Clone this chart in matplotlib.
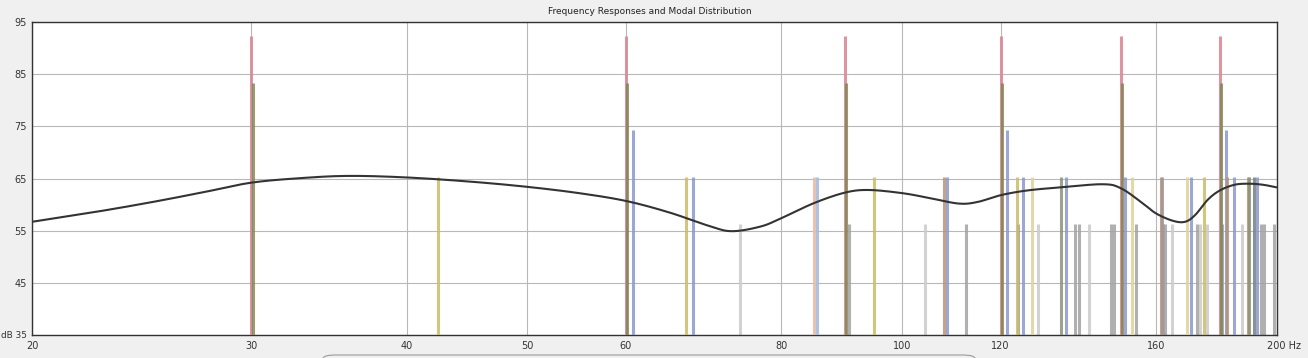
import numpy as np
import matplotlib
matplotlib.use("Agg")
import matplotlib.pyplot as plt
from matplotlib.patches import FancyBboxPatch
import matplotlib.transforms as mtransforms

# ---- data ----
title = "Frequency Responses and Modal Distribution"
x_ticks = [20, 30, 40, 50, 60, 80, 100, 120, 160, 200]
x_ticklabels = ["20", "30", "40", "50", "60", "80", "100", "120", "160", "200 Hz"]
y_ticks = [35, 45, 55, 65, 75, 85, 95]
y_ticklabels = ["dB 35", "45", "55", "65", "75", "85", "95"]

# response curve (Hz, dB)
resp_freq = [20, 22.5, 25, 27.5, 30, 33, 36, 40, 45, 50, 55, 60, 65, 70, 73, 77, 80,
             85, 90, 94, 100, 105, 111, 115, 120, 126, 134, 145, 150, 156, 160,
             165, 168.8, 172, 176, 180, 185, 190, 195, 200]
resp_db = [56.7, 58.6, 60.5, 62.4, 64.2, 65.1, 65.5, 65.2, 64.4, 63.4, 62.2, 60.7,
           58.5, 55.9, 54.9, 55.8, 57.4, 60.3, 62.3, 62.8, 62.2, 61.3, 60.2, 60.5,
           61.8, 62.7, 63.3, 63.9, 63.1, 60.3, 58.3, 56.9, 56.7, 58.0, 60.9, 62.7,
           63.8, 64.0, 63.8, 63.3]

# modal bars (Hz) grouped by colour/level
red_modes = [30, 60, 90, 120, 150, 180]
red_level = 92.3
green_modes = [30.08, 60.15, 90.2, 120.25, 150.3, 180.35]
green_level = 83.3
blue_tall_modes = [60.8, 121.5, 182.1]
blue_tall_level = 74.3

mid_level = 65.3
yellow_mid = [42.4, 67.1, 95.0, 123.6, 174.9]
lightyellow_mid = [127.2, 153.0, 169.5]
blue_mid = [67.9, 108.6, 125.1, 135.4, 151.1, 161.7, 170.7, 184.9, 192.7]
lightblue_mid = [85.5]
pink_mid = [84.9]
brown_mid = [108.1, 161.4, 182.3, 189.5]
olivegray_mid = [134.2, 189.9]
darkgray_mid = [191.7]

low_level = 56.3
gray_low = [90.6, 112.6, 124.0, 137.6, 138.8, 147.1, 148.1, 154.2, 162.2, 162.8,
            172.5, 180.8, 194.4, 195.2, 199.1]
lightgray_low = [74.1, 104.4, 128.7, 141.3, 164.7, 173.4, 175.9, 187.4]

# ---- figure ----
W, H, DPI = 1308, 358, 100
fig = plt.figure(figsize=(W / DPI, H / DPI), dpi=DPI, facecolor="#f0f0f0")
L, R, T, B = 32, 1276.7, 22, 335
ax = fig.add_axes([L / W, (H - B) / H, (R - L) / W, (B - T) / H])
ax.set_facecolor("white")
ax.set_xscale("log")
ax.set_xlim(20, 200)
ax.set_ylim(35, 95)

ax.set_xticks(x_ticks)
ax.set_xticklabels(x_ticklabels)
ax.xaxis.set_minor_locator(matplotlib.ticker.NullLocator())
ax.set_yticks(y_ticks)
ax.set_yticklabels(y_ticklabels)
ax.tick_params(axis="both", length=0, labelsize=7, labelcolor="#333333")
ax.tick_params(axis="y", pad=3.5)
ax.tick_params(axis="x", pad=4)
ax.get_yticklabels()[0].set_fontsize(6.4)
lab = ax.get_xticklabels()[-1]
lab.set_horizontalalignment("left")
lab.set_transform(lab.get_transform() + mtransforms.ScaledTranslation(-10 / DPI, 0, fig.dpi_scale_trans))

ax.grid(True, color="#b8b8b8", linewidth=0.8)
ax.set_axisbelow(True)
for s in ax.spines.values():
    s.set_color("#333333")
    s.set_linewidth(1.0)

bw = 2.2
def bars(freqs, level, color, alpha=0.85, z=2):
    ax.vlines(freqs, 35, level, colors=color, linewidth=bw, alpha=alpha, zorder=z)

bars(lightgray_low, low_level, "#cdcdcd", 0.9)
bars(gray_low, low_level, "#a3a3a3", 0.85)
bars(red_modes, red_level, "#d98a97", 0.9, 3)
bars(green_modes, green_level, "#7c8650", 0.8, 4)
bars(blue_tall_modes, blue_tall_level, "#8d97d2", 0.85, 3)
bars(yellow_mid, mid_level, "#cbbc68", 0.85, 3)
bars(lightyellow_mid, mid_level, "#e0d59c", 0.9, 3)
bars(blue_mid, mid_level, "#8c98cc", 0.85, 3)
bars(lightblue_mid, mid_level, "#a3bde3", 0.9, 3)
bars(pink_mid, mid_level, "#e9bcaa", 0.9, 3)
bars(brown_mid, mid_level, "#b69476", 0.85, 3)
bars(olivegray_mid, mid_level, "#8c9278", 0.85, 3)
bars(darkgray_mid, mid_level, "#7c868c", 0.9, 3)

# smooth rendering of the curve through the read points (Catmull-Rom in log-f)
lx = np.log10(np.array(resp_freq, dtype=float))
ly = np.array(resp_db, dtype=float)
px = np.concatenate([[2 * lx[0] - lx[1]], lx, [2 * lx[-1] - lx[-2]]])
py = np.concatenate([[2 * ly[0] - ly[1]], ly, [2 * ly[-1] - ly[-2]]])
sx, sy = [], []
for i in range(1, len(px) - 2):
    p0, p1, p2, p3 = (np.array([px[j], py[j]]) for j in (i - 1, i, i + 1, i + 2))
    t = np.linspace(0, 1, 16, endpoint=(i == len(px) - 3))
    t = t[:, None]
    pts = 0.5 * ((2 * p1) + (-p0 + p2) * t + (2 * p0 - 5 * p1 + 4 * p2 - p3) * t ** 2
                 + (-p0 + 3 * p1 - 3 * p2 + p3) * t ** 3)
    sx.extend(pts[:, 0]); sy.extend(pts[:, 1])
ax.plot(10 ** np.array(sx), sy, color="#333333", linewidth=1.5, zorder=6,
        solid_capstyle="round", solid_joinstyle="round")

fig.text(((L + R) / 2 - 5) / W, (H - 12) / H, title, ha="center", va="center",
         fontsize=6.5, color="#222222")

# bottom tab outline
fig.patches.append(FancyBboxPatch((323 / W, -0.05), (975 - 323) / W, 0.05 + 3 / H,
                                  boxstyle="round,pad=0,rounding_size=0.01",
                                  transform=fig.transFigure, facecolor="none",
                                  edgecolor="#9a9a9a", linewidth=0.8, figure=fig))

fig.savefig("out.png", dpi=DPI, facecolor=fig.get_facecolor())
